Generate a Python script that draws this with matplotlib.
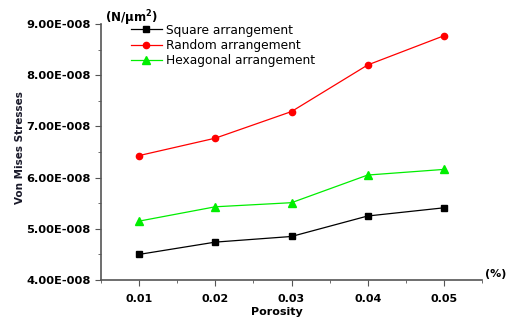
import matplotlib.pyplot as plt
from matplotlib.ticker import MultipleLocator

porosity = [0.01, 0.02, 0.03, 0.04, 0.05]
square = [4.50e-8, 4.74e-8, 4.85e-8, 5.25e-8, 5.41e-8]
random_ = [6.43e-8, 6.77e-8, 7.29e-8, 8.20e-8, 8.77e-8]
hexagonal = [5.15e-8, 5.43e-8, 5.51e-8, 6.05e-8, 6.16e-8]
yticks = [4e-8, 5e-8, 6e-8, 7e-8, 8e-8, 9e-8]
ylabels = ["4.00E-008", "5.00E-008", "6.00E-008", "7.00E-008", "8.00E-008", "9.00E-008"]

fig = plt.figure(figsize=(5.16, 3.2), dpi=100)
ax = fig.add_axes([101/516, 40/320, 381/516, 256/320])

ax.plot(porosity, square, color="black", marker="s", ms=4.5, lw=0.9, label="Square arrangement")
ax.plot(porosity, random_, color="red", marker="o", ms=4.5, lw=0.9, label="Random arrangement")
ax.plot(porosity, hexagonal, color="#00ee00", marker="^", ms=5.5, lw=0.9, label="Hexagonal arrangement")

ax.set_xlim(0.005, 0.055)
ax.set_ylim(4e-8, 9e-8)
ax.set_xticks(porosity)
ax.set_xticklabels(["0.01", "0.02", "0.03", "0.04", "0.05"], fontweight="bold", fontsize=8)
ax.set_yticks(yticks)
ax.set_yticklabels(ylabels, fontweight="bold", fontsize=8.2)
ax.xaxis.set_minor_locator(MultipleLocator(0.005))
ax.yaxis.set_minor_locator(MultipleLocator(0.5e-8))
ax.tick_params(which="both", direction="out", color="#555555")
ax.tick_params(axis="x", which="major", pad=6)
ax.tick_params(which="major", length=4)
ax.tick_params(which="minor", length=2.5)
for s in ["top", "right"]:
    ax.spines[s].set_visible(False)
for s in ["left", "bottom"]:
    ax.spines[s].set_color("#555555")
    ax.spines[s].set_linewidth(1.2)

fig.text(277/516, 1 - 312/320, "Porosity", fontweight="bold", fontsize=8, ha="center", va="center")
fig.text(20/516, 1 - 148/320, "Von Mises Stresses", fontweight="bold", fontsize=7.5,
         color="#1a1a2a", rotation=90, ha="center", va="center")
fig.text(105/516, 1 - 18/320, "(N/\u03bcm$^\\mathbf{2}$)", fontweight="bold", fontsize=8.5, va="center")
fig.text(485/516, 1 - 274/320, "(%)", fontweight="bold", fontsize=8, va="center")

ax.legend(loc="upper left", bbox_to_anchor=(0.055, 1.035), frameon=False, fontsize=8.8,
          handlelength=2.6, handletextpad=0.3, labelspacing=0.2, borderpad=0.2)

fig.savefig("out.png", dpi=100)
